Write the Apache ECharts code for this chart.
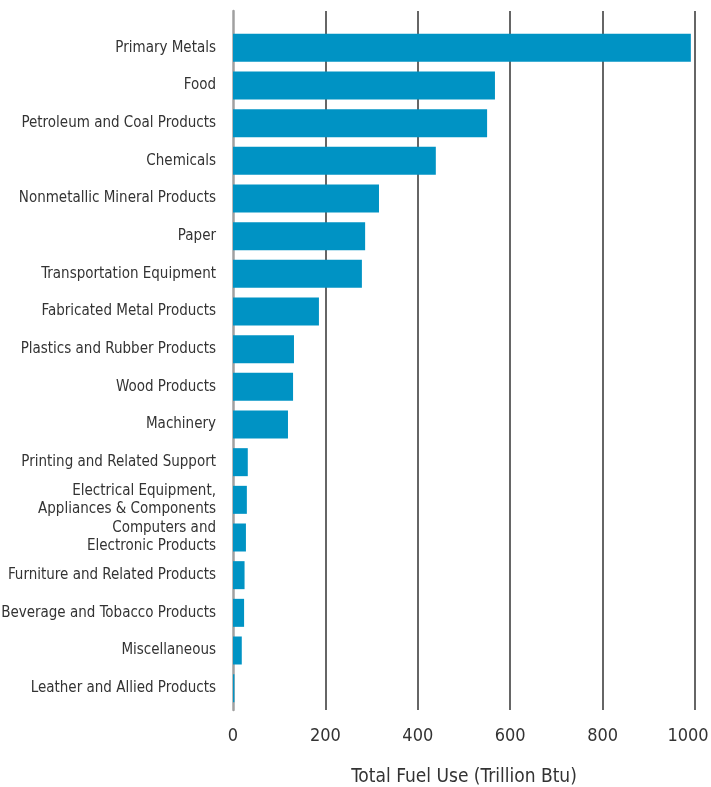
<!DOCTYPE html>
<html>
<head>
<meta charset="utf-8">
<script src="https://cdn.jsdelivr.net/npm/echarts@6/dist/echarts.min.js"></script>
<style>
html,body{margin:0;padding:0;background:#fff;}
#chart{width:711px;height:787px;}
</style>
</head>
<body>
<div id="chart"></div>
<script>
const categories = [
  "Primary Metals",
  "Food",
  "Petroleum and Coal Products",
  "Chemicals",
  "Nonmetallic Mineral Products",
  "Paper",
  "Transportation Equipment",
  "Fabricated Metal Products",
  "Plastics and Rubber Products",
  "Wood Products",
  "Machinery",
  "Printing and Related Support",
  "Electrical Equipment,\nAppliances & Components",
  "Computers and\nElectronic Products",
  "Furniture and Related Products",
  "Beverage and Tobacco Products",
  "Miscellaneous",
  "Leather and Allied Products"
];
const fuelUse = [991, 567, 550, 439, 316, 286, 279, 186, 132, 130, 119, 32, 30, 28, 25, 24, 19, 3];
const xTicks = [0, 200, 400, 600, 800, 1000];
const xTitle = "Total Fuel Use (Trillion Btu)";

const FONT = '"Liberation Sans Narrow", "DejaVu Sans Condensed", "Roboto", sans-serif';
const chart = echarts.init(document.getElementById('chart'));
chart.setOption({
  animation: false,
  backgroundColor: '#fff',
  grid: [
    {left: 233, right: 16, top: 29, bottom: 80, containLabel: false, outerBoundsMode: 'none'},
    {left: 233, right: 16, top: 11, bottom: 77, containLabel: false, outerBoundsMode: 'none'}
  ],
  xAxis: [
    {gridIndex: 0, type: 'value', min: xTicks[0], max: xTicks[xTicks.length-1], interval: 200, show: false},
    {gridIndex: 1, type: 'value', min: xTicks[0], max: xTicks[xTicks.length-1], interval: 200,
     axisLine: {show: false}, axisTick: {show: false},
     splitLine: {show: true, showMinLine: false, lineStyle: {color: '#333', width: 1.5}},
     axisLabel: {margin: 17, fontFamily: FONT, fontSize: 18, color: '#333',
                 formatter: function (v) {
                   return v === xTicks[xTicks.length-1] ? '{last|' + v + '}' : String(v);
                 },
                 rich: {last: {fontFamily: FONT, fontSize: 18, color: '#333', padding: [0, 14, 0, 0]}}},
     name: xTitle, nameLocation: 'middle', nameGap: 58,
     nameTextStyle: {fontFamily: FONT, fontSize: 19, color: '#333'}
    }
  ],
  yAxis: [
    {gridIndex: 0, type: 'category', data: categories, inverse: true,
     axisLine: {show: false}, axisTick: {show: false}, splitLine: {show: false},
     axisLabel: {margin: 17, fontFamily: FONT, fontSize: 15, color: '#333', lineHeight: 18, align: 'right'}
    },
    {gridIndex: 1, type: 'value', min: 0, max: 1,
     axisLine: {show: true, lineStyle: {color: '#a0a0a0', width: 2.5}},
     axisTick: {show: false}, axisLabel: {show: false}, splitLine: {show: false}
    }
  ],
  series: [
    {type: 'bar', xAxisIndex: 0, yAxisIndex: 0, data: fuelUse, barWidth: 28,
     itemStyle: {color: '#0093C4'}, z: 3}
  ]
});
</script>
</body>
</html>
